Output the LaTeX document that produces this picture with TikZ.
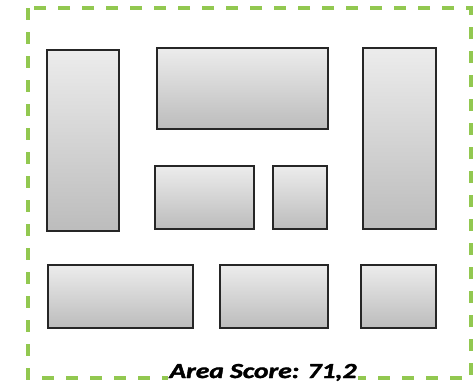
\documentclass[tikz,border=0pt]{standalone}
\usepackage{fontspec}
\setmainfont{Carlito}
\usetikzlibrary{shadows}
\definecolor{bordergreen}{RGB}{146,200,80}
\definecolor{boxtop}{RGB}{236,236,236}
\definecolor{boxbottom}{RGB}{188,188,188}

\tikzset{
  blockbox/.style={draw=black!85, line width=1.2pt, top color=boxtop, bottom color=boxbottom,
    drop shadow={opacity=0.25, shadow xshift=1.2pt, shadow yshift=-1.2pt},
    inner sep=0pt, outer sep=0pt},
  areaframe/.style={draw=bordergreen, line width=3.4pt, dash pattern=on 12pt off 12pt}
}

\begin{document}
\begin{tikzpicture}[x=1pt,y=-1pt]

% Background / page size
\fill[white] (0,0) rectangle (475,384);
\useasboundingbox (0,0) rectangle (475,384);

% Area frame
\coordinate (frameNW) at (28,8);
\coordinate (frameSE) at (471,378);
\draw[areaframe] (frameNW) rectangle (frameSE);

% Placed blocks (name/center x/center y/width/height)
\foreach \name/\x/\y/\w/\h in {
  tallLeft/83/140.5/72/181,
  wideTop/242.5/88.5/171/81,
  tallRight/399.5/138.5/73/181,
  midLeft/204.5/197.5/99/63,
  midSmall/300/197.5/54/63,
  lowLeft/120.5/296.5/145/63,
  lowMid/274/296.5/108/63,
  lowRight/398.5/296.5/75/63
} {
  \node[blockbox, minimum width=\w pt, minimum height=\h pt] (\name) at (\x,\y) {};
}

% Score label
\node[fill=white, inner xsep=1pt, inner ysep=1pt, anchor=base, xscale=1.28,
  font=\fontsize{21.5}{24}\selectfont\bfseries\itshape\addfontfeature{FakeBold=1.6}] (score) at (263,378) {Area Score: 71,2};

\end{tikzpicture}
\end{document}
